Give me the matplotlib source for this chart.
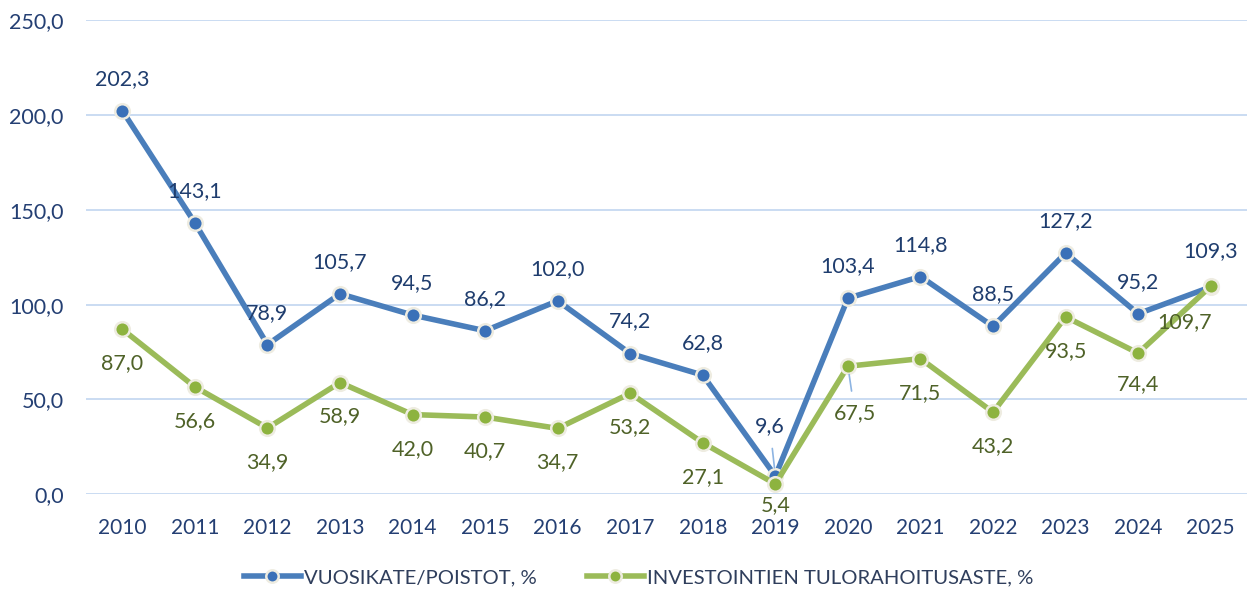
import matplotlib
matplotlib.use('Agg')
import matplotlib.pyplot as plt

years = [str(y) for y in range(2010, 2026)]
vuosikate = [202.3, 143.1, 78.9, 105.7, 94.5, 86.2, 102.0, 74.2, 62.8, 9.6,
             103.4, 114.8, 88.5, 127.2, 95.2, 109.3]
tulorahoitus = [87.0, 56.6, 34.9, 58.9, 42.0, 40.7, 34.7, 53.2, 27.1, 5.4,
                67.5, 71.5, 43.2, 93.5, 74.4, 109.7]
yticks = [0, 50, 100, 150, 200, 250]

plt.rcParams['font.family'] = ['Lato', 'DejaVu Sans']

blue_line = '#4A7EBB'
blue_face = '#3A70B8'
blue_text = '#1F3D6E'
green_line = '#9BBB59'
green_face = '#8DB33F'
green_text = '#4F6228'
tick_col = '#243F73'
grid_col = '#C6D9F1'
leader_col = '#8DB4E2'

fig = plt.figure(figsize=(12.47, 5.94), dpi=100)
ax = fig.add_axes([0.069, 0.168, 0.931, 0.798])

x = list(range(len(years)))
ax.plot(x, vuosikate, color=blue_line, lw=4.0, marker='o', ms=10.5,
        mfc=blue_face, mec='#EEECE1', mew=1.8, label='VUOSIKATE/POISTOT, %', zorder=3)
ax.plot(x, tulorahoitus, color=green_line, lw=4.0, marker='o', ms=10.5,
        mfc=green_face, mec='#EEECE1', mew=1.8, label='INVESTOINTIEN TULORAHOITUSASTE, %', zorder=4)

def fmt(v):
    return ('%.1f' % v).replace('.', ',')

# data labels: default offsets, with a few exceptions
blue_off = {9: (-4, 36), 15: (0, 26)}
green_off = {9: (0, -15.5), 10: (5, -34), 14: (0, -22), 15: (-19, -26)}
leaders = {('b', 9), ('g', 10)}
lab_fs = 15.5

for i, v in enumerate(vuosikate):
    dx, dy = blue_off.get(i, (0, 23))
    ap = dict(arrowstyle='-', color=leader_col, lw=1.2, shrinkA=7, shrinkB=6) if ('b', i) in leaders else None
    ax.annotate(fmt(v), (i, v), xytext=(dx, dy), textcoords='offset points',
                ha='center', va='center', fontsize=lab_fs, color=blue_text,
                arrowprops=ap, zorder=5)

for i, v in enumerate(tulorahoitus):
    dx, dy = green_off.get(i, (0, -24.5))
    ap = dict(arrowstyle='-', color=leader_col, lw=1.2, shrinkA=7, shrinkB=6) if ('g', i) in leaders else None
    ax.annotate(fmt(v), (i, v), xytext=(dx, dy), textcoords='offset points',
                ha='center', va='center', fontsize=lab_fs, color=green_text,
                arrowprops=ap, zorder=5)

ax.set_xlim(-0.5, len(years) - 0.5)
ax.set_ylim(0, 250)
ax.set_xticks(x)
ax.set_xticklabels(years)
ax.set_yticks(yticks)
ax.set_yticklabels([fmt(t) for t in yticks])
ax.tick_params(axis='x', length=0, labelsize=15, labelcolor=tick_col, pad=17)
ax.tick_params(axis='y', length=0, labelsize=15.5, labelcolor=tick_col, pad=16)
ax.grid(axis='y', color=grid_col, lw=1.3)
ax.set_axisbelow(True)
for s in ax.spines.values():
    s.set_visible(False)

leg = fig.legend(loc='center', bbox_to_anchor=(0.512, 0.027), ncol=2, frameon=False,
                 fontsize=14.6, handlelength=2.8, columnspacing=2.5, handletextpad=0.15,
                 markerscale=0.85)
for t in leg.get_texts():
    t.set_color('#2F3E5C')

plt.savefig('out.png', dpi=100)
